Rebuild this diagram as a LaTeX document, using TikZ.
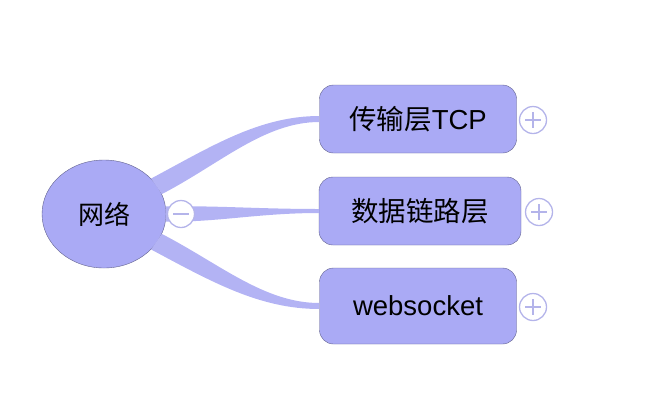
\documentclass[tikz,border=0pt]{standalone}
\usepackage{fontspec}
\setmainfont{Liberation Sans}
\newfontfamily\cjk{Noto Sans CJK SC}
\usetikzlibrary{shapes.geometric,calc}

\definecolor{nodefill}{HTML}{AAAAF5}
\definecolor{nodeline}{HTML}{62628E}
\definecolor{bandfill}{HTML}{B3B3F4}
\definecolor{togglecol}{HTML}{B4B4EA}

\begin{document}
\begin{tikzpicture}[x=1pt, y=-1pt,
        root/.style={
            ellipse,
            draw=nodeline, thin,
            fill=nodefill,
            minimum width=124pt,
            minimum height=108pt,
            inner sep=0pt,
            font=\cjk\fontsize{26}{30}\selectfont},
        topic/.style={
            rectangle,
            rounded corners=14pt,
            draw=nodeline, thin,
            fill=nodefill,
            minimum width=197pt,
            minimum height=68pt,
            inner sep=0pt,
            font=\fontsize{27.5}{32}\selectfont},
        band/.style={
            fill=bandfill},
        toggle/.style={
            circle,
            draw=togglecol, line width=1.3pt,
            fill=white,
            minimum size=27pt,
            inner sep=0pt},
        sign/.style={
            draw=togglecol, line width=1.3pt}
        ]

        \useasboundingbox (0,0) rectangle (650,408);

        \node (net) [root] at (104,214) {网络};
        \node (tcp) [topic] at (418,119) {{\cjk 传输层}TCP};
        \node (link) [topic, minimum width=202pt] at (420,211) {\cjk 数据链路层};
        \node (ws) [topic, minimum height=76pt] at (418,306) {websocket};

        % branches
        \fill [band] (net.37) .. controls +(60,-32) and +(-60,0) .. ($(tcp.west)+(0,-3)$)
            -- ($(tcp.west)+(0,3)$) .. controls +(-55,0) and +(58,-30) .. (net.19) -- cycle;
        \fill [band] (net.7) .. controls +(50,-1) and +(-60,0) .. ($(link.west)+(0,-2)$)
            -- ($(link.west)+(0,2)$) .. controls +(-60,0) and +(50,1) .. (net.-7) -- cycle;
        \fill [band] (net.-19) .. controls +(58,30) and +(-55,0) .. ($(ws.west)+(0,-3)$)
            -- ($(ws.west)+(0,3)$) .. controls +(-60,0) and +(60,32) .. (net.-37) -- cycle;

        % toggles
        \node (fold) [toggle] at (181,214) {};
        \node (more1) [toggle] at (533,120) {};
        \node (more2) [toggle] at (539,212) {};
        \node (more3) [toggle] at (533,307) {};

        \draw [sign] ($(fold.center)+(-8,0)$) -- ($(fold.center)+(8,0)$);
        \foreach \t in {more1,more2,more3} {
            \draw [sign] ($(\t.center)+(-8,0)$) -- ($(\t.center)+(8,0)$);
            \draw [sign] ($(\t.center)+(0,-8)$) -- ($(\t.center)+(0,8)$);
        }

\end{tikzpicture}
\end{document}
